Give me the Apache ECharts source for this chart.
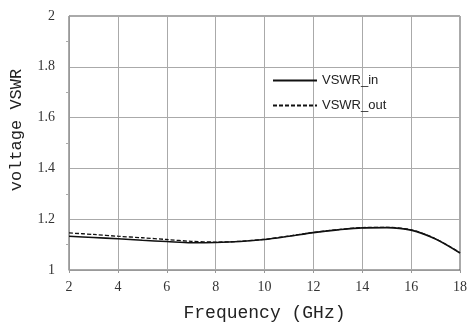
<!DOCTYPE html>
<html><head><meta charset="utf-8">
<script src="https://cdn.jsdelivr.net/npm/echarts@6/dist/echarts.min.js"></script>
<style>html,body{margin:0;padding:0;background:#fff}#c{width:470px;height:327px}</style>
</head><body><div id="c"></div>
<script>
const freq = [2,3,4,5,6,7,8,9,10,11,12,13,14,15,16,17,18];
const vswrIn = [1.133,1.128,1.123,1.117,1.112,1.107,1.108,1.112,1.120,1.133,1.147,1.158,1.166,1.167,1.157,1.122,1.067];
const vswrOut = [1.146,1.140,1.133,1.127,1.120,1.113,1.110,1.113,1.121,1.134,1.148,1.159,1.167,1.168,1.158,1.123,1.068];
const yTicks = [1,1.2,1.4,1.6,1.8,2];
const xTicks = [2,4,6,8,10,12,14,16,18];
const seriesNames = ['VSWR_in','VSWR_out'];

const chart = echarts.init(document.getElementById('c'), null, {renderer:'canvas'});
const pair = (xs, ys) => xs.map((x,i)=>[x, ys[i]]);
chart.setOption({
  animation:false,
  backgroundColor:'#fff',
  grid:{left:69,right:7,top:16,bottom:56,show:true,borderColor:'#555',borderWidth:1},
  legend:{
    left:267, top:69, orient:'vertical', itemWidth:44, itemHeight:12, itemGap:12,
    itemStyle:{opacity:0},
    textStyle:{fontFamily:'Liberation Sans',fontSize:13,color:'#222'},
    data:seriesNames
  },
  xAxis:{
    type:'value', min:2, max:18, interval:2,
    name:'Frequency (GHz)', nameLocation:'middle', nameGap:34,
    nameTextStyle:{fontFamily:'Liberation Mono',fontSize:18,color:'#222'},
    axisLine:{show:true,lineStyle:{color:'#999'}},
    axisTick:{show:true,length:3,lineStyle:{color:'#999'}},
    axisLabel:{fontFamily:'Liberation Serif',fontSize:14,color:'#333',margin:10,
      formatter:v=>xTicks.includes(v)?String(v):''},
    splitLine:{show:true,lineStyle:{color:'#aaa'}}
  },
  yAxis:{
    type:'value', min:1, max:2, interval:0.2,
    name:'voltage VSWR', nameLocation:'middle', nameGap:44,
    nameTextStyle:{fontFamily:'Liberation Mono',fontSize:17,color:'#222',padding:[0,0,0,26]},
    axisLine:{show:true,lineStyle:{color:'#999'}},
    axisTick:{show:false},
    minorTick:{show:true,splitNumber:2,length:3,lineStyle:{color:'#aaa'}},
    axisLabel:{fontFamily:'Liberation Serif',fontSize:14,color:'#333',margin:14,
      formatter:v=>{const t=yTicks.find(k=>Math.abs(k-v)<1e-6);return t===undefined?'':String(t);}},
    splitLine:{show:true,lineStyle:{color:'#aaa'}}
  },
  series:[
    {name:seriesNames[0],type:'line',data:pair(freq,vswrIn),smooth:0.3,showSymbol:false,symbol:'none',
     lineStyle:{color:'#111',width:1.6},itemStyle:{color:'#111'}},
    {name:seriesNames[1],type:'line',data:pair(freq,vswrOut),smooth:0.3,showSymbol:false,symbol:'none',
     lineStyle:{color:'#111',width:1.3,type:[4,2]},itemStyle:{color:'#111'}}
  ]
});
</script></body></html>
